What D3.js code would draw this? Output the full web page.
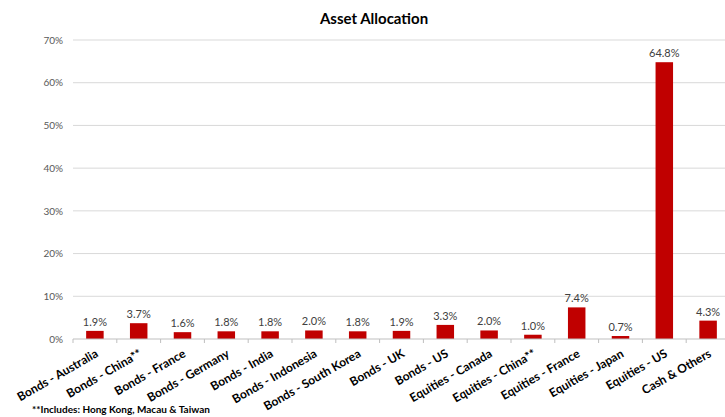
<!DOCTYPE html>
<html><head><meta charset="utf-8">
<script src="https://cdn.jsdelivr.net/npm/d3@7"></script>
<style>body{margin:0;background:#fff;overflow:hidden;} svg{display:block;}</style>
</head><body>
<script>
const categories = ["Bonds - Australia","Bonds - China**","Bonds - France","Bonds - Germany","Bonds - India","Bonds - Indonesia","Bonds - South Korea","Bonds - UK","Bonds - US","Equities - Canada","Equities - China**","Equities - France","Equities - Japan","Equities - US","Cash & Others"];
const values = [1.9,3.7,1.6,1.8,1.8,2.0,1.8,1.9,3.3,2.0,1.0,7.4,0.7,64.8,4.3];
const yTicks = [0,10,20,30,40,50,60,70];
const title = "Asset Allocation";
const footnote = "**Includes: Hong Kong, Macau & Taiwan";

const W=725,H=417;
const plotL=73, plotR=730, plotT=40, plotB=339;
const svg=d3.select("body").append("svg").attr("width",W).attr("height",H);
const font="Lato, 'Open Sans', sans-serif";
const xb=d3.scaleBand().domain(categories).range([plotL,plotR]);
const barW=17.5;
const y=d3.scaleLinear().domain([0,70]).range([plotB,plotT]);

svg.append("text").attr("x",374).attr("y",24).attr("text-anchor","middle")
  .attr("font-family",font).attr("font-weight","bold").attr("font-size",15).attr("fill","#000").text(title);

svg.append("g").selectAll("line").data(yTicks.filter(d=>d>0)).join("line")
  .attr("x1",plotL).attr("x2",plotR).attr("y1",d=>y(d)).attr("y2",d=>y(d))
  .attr("stroke","#d9d9d9").attr("stroke-width",1);

const ya=svg.append("g").attr("transform",`translate(${plotL},0)`)
  .call(d3.axisLeft(y).tickValues(yTicks).tickFormat(d=>d+"%").tickSize(0).tickPadding(10));
ya.select(".domain").remove();
ya.selectAll("text").attr("font-family",font).attr("font-size",10).attr("fill","#595959");

const cx=i=>xb(categories[i])+xb.bandwidth()/2;
svg.selectAll("rect.bar").data(values).join("rect")
  .attr("x",(d,i)=>cx(i)-barW/2).attr("width",barW)
  .attr("y",d=>y(d)).attr("height",d=>y(0)-y(d)).attr("fill","#c00000");

svg.selectAll("text.val").data(values).join("text")
  .attr("x",(d,i)=>cx(i)).attr("y",d=>y(d)-5)
  .attr("text-anchor","middle").attr("font-family",font).attr("font-size",11).attr("fill","#404040")
  .text(d=>d.toFixed(1)+"%");

const xa=svg.append("g");
xa.append("line").attr("x1",plotL).attr("x2",plotR).attr("y1",y(0)).attr("y2",y(0)).attr("stroke","#bfbfbf");
const tickPos=categories.map(c=>xb(c)).concat([plotR]);
xa.selectAll("line.t").data(tickPos).join("line").attr("x1",d=>d).attr("x2",d=>d)
  .attr("y1",y(0)).attr("y2",y(0)+4).attr("stroke","#bfbfbf");
xa.selectAll("text.cat").data(categories).join("text")
  .attr("transform",(c,i)=>`translate(${cx(i)+4},${y(0)+17}) rotate(-30)`)
  .attr("text-anchor","end").attr("font-family",font).attr("font-weight","bold").attr("font-size",12).attr("fill","#000")
  .text(c=>c);

svg.append("text").attr("x",32).attr("y",413).attr("font-family",font).attr("font-weight","bold")
  .attr("font-size",10).attr("fill","#000").text(footnote);
</script>
</body></html>
